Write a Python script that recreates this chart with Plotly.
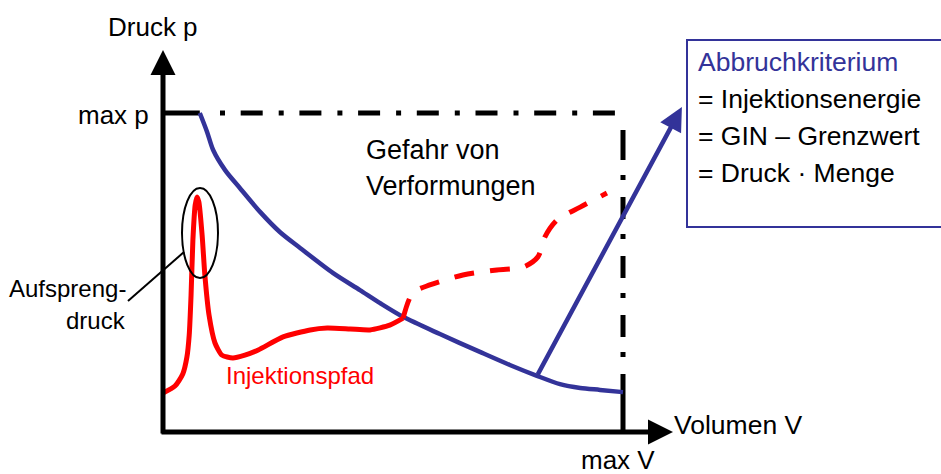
import plotly.graph_objects as go

# ---------------- data (diagram units: V and p in % of max) ----------------
V_MAX = 100.0
P_MAX = 100.0

# limit curve (blue)
V_LIMIT = [8, 9.6, 10.9, 13.5, 16.7, 21.1, 25.4, 29.8, 37, 42.8, 47.2, 52.2,
           60.2, 68.9, 75.4, 81.3, 86.3, 90.7, 95, 100]
P_LIMIT = [100, 94, 88.4, 82.1, 76.5, 69, 62.7, 57.7, 49.8, 44.5, 40.4, 36.1,
           30.7, 25.1, 21, 17.6, 15, 13.8, 13.2, 12.5]

# injection path (red, solid part)
V_PATH = [0, 2.6, 4.3, 5.2, 5.7, 6.1, 6.5, 7.0, 7.4, 7.8, 8.5, 9.1, 10.0, 11.3,
          12.8, 15.2, 17.8, 20.7, 26.1, 32.0, 35.7, 40.7, 45.0, 49.3, 52.2]
P_PATH = [12.2, 14.4, 18.2, 23.5, 30.4, 42.9, 60.2, 71.2, 73.7, 72.1, 61.8,
          49.2, 36.7, 27.9, 24.1, 23.2, 24.1, 25.7, 29.8, 32.0, 32.6, 32.3,
          32.0, 33.5, 35.7]

# injection path continued (red, dashed)
V_PATH_DASH = [52.2, 54.3, 58.0, 65.2, 72.6, 78.3, 81.5, 83.0, 85.7, 90.7, 96.5]
P_PATH_DASH = [35.7, 43.6, 46.1, 49.2, 50.8, 51.7, 54.9, 61.1, 66.5, 70.5, 74.9]

# criterion arrow (from limit curve to text box)
CRIT_ARROW_V = [81.3, 112.8]
CRIT_ARROW_P = [17.6, 101.9]

TICK_LABELS = {"p": "max p", "V": "max V"}
AXIS_TITLES = {"p": "Druck p", "V": "Volumen V"}
BOX_LINES = ["Abbruchkriterium", "= Injektionsenergie", "= GIN \u2013 Grenzwert",
             "= Druck \u00b7 Menge"]

# ---------------- layout helpers (pixel -> diagram units) ----------------
W, H = 941, 474
X0_PX, XMAX_PX = 163, 623
Y0_PX, YMAX_PX = 432, 113
SX = (XMAX_PX - X0_PX) / V_MAX
SY = (Y0_PX - YMAX_PX) / P_MAX


def vx(px):
    return (px - X0_PX) / SX


def py(pix):
    return (Y0_PX - pix) / SY


BLUE = "#333399"
RED = "#ff0000"
BLACK = "#000000"
FONT = "Liberation Sans, Arial, sans-serif"

fig = go.Figure()

# max p / max V dash-dot limits
fig.add_trace(go.Scatter(x=[0, V_LIMIT[0]], y=[P_MAX, P_MAX], mode="lines",
                         line=dict(color=BLACK, width=5), hoverinfo="skip"))
fig.add_trace(go.Scatter(x=[vx(220), V_MAX], y=[P_MAX, P_MAX], mode="lines",
                         line=dict(color=BLACK, width=5,
                                   dash="5px,15.7px,22px,16px"),
                         hoverinfo="skip"))
fig.add_trace(go.Scatter(x=[V_MAX, V_MAX], y=[py(130), 0], mode="lines",
                         line=dict(color=BLACK, width=5,
                                   dash="30px,15px,5px,17px,22px,15px,5px,17px,22px,15px,5px,17px,22px,15px,5px,17px,80px"),
                         hoverinfo="skip"))

# limit curve
fig.add_trace(go.Scatter(x=V_LIMIT, y=P_LIMIT, mode="lines",
                         line=dict(color=BLUE, width=4.5, shape="spline", smoothing=0.8),
                         hoverinfo="skip"))
# injection path
fig.add_trace(go.Scatter(x=V_PATH, y=P_PATH, mode="lines",
                         line=dict(color=RED, width=5, shape="spline", smoothing=0.6),
                         hoverinfo="skip"))
fig.add_trace(go.Scatter(x=V_PATH_DASH, y=P_PATH_DASH, mode="lines",
                         line=dict(color=RED, width=5, shape="spline", smoothing=0.8,
                                   dash="20px,16px"),
                         hoverinfo="skip"))

annotations = []
# axes arrows
annotations.append(dict(x=0, y=py(50), ax=0, ay=py(435), xref="x", yref="y",
                        axref="x", ayref="y", text="", showarrow=True,
                        arrowhead=2, arrowsize=1, arrowwidth=5, arrowcolor=BLACK))
annotations.append(dict(x=vx(673), y=0, ax=vx(160), ay=0, xref="x", yref="y",
                        axref="x", ayref="y", text="", showarrow=True,
                        arrowhead=2, arrowsize=1, arrowwidth=5, arrowcolor=BLACK))
# criterion arrow
annotations.append(dict(x=CRIT_ARROW_V[1], y=CRIT_ARROW_P[1],
                        ax=CRIT_ARROW_V[0], ay=CRIT_ARROW_P[0],
                        xref="x", yref="y", axref="x", ayref="y", text="",
                        showarrow=True, arrowhead=2, arrowsize=1.05,
                        arrowwidth=4.5, arrowcolor=BLUE))


def label(text, x, y, xanchor="center", size=26.5, color=BLACK):
    annotations.append(dict(text=text, x=vx(x), y=py(y), xref="x", yref="y",
                            xanchor=xanchor, yanchor="middle", showarrow=False,
                            font=dict(family=FONT, size=size, color=color)))


label(AXIS_TITLES["p"], 153, 27, size=26)
label(TICK_LABELS["p"], 151, 115, xanchor="right", size=26)
label(AXIS_TITLES["V"], 672, 425, xanchor="left")
label(TICK_LABELS["V"], 618, 460, size=26)
label("Gefahr von", 364, 150, xanchor="left", size=27)
label("Verformungen", 364, 186, xanchor="left", size=27)
label("Aufspreng-", 128, 288, xanchor="right", size=24)
label("druck", 128, 320, xanchor="right", size=24)
label("Injektionspfad", 300, 375, size=24, color=RED)
label(BOX_LINES[0], 696, 62, xanchor="left", color=BLUE)
label(BOX_LINES[1], 696, 99, xanchor="left")
label(BOX_LINES[2], 696, 136, xanchor="left")
label(BOX_LINES[3], 696, 173, xanchor="left")

shapes = [
    dict(type="rect", xref="x", yref="y", x0=vx(687), x1=vx(960),
         y0=py(40), y1=py(227), line=dict(color=BLUE, width=2)),
    dict(type="circle", xref="x", yref="y", x0=vx(182), x1=vx(218),
         y0=py(188), y1=py(278), line=dict(color=BLACK, width=2)),
    dict(type="line", xref="x", yref="y", x0=vx(128), y0=py(301),
         x1=vx(184), y1=py(252), line=dict(color=BLACK, width=2)),
]

fig.update_layout(
    width=W, height=H,
    margin=dict(l=0, r=0, t=0, b=0),
    paper_bgcolor="white", plot_bgcolor="white",
    showlegend=False,
    xaxis=dict(range=[vx(0), vx(W)], visible=False, fixedrange=True),
    yaxis=dict(range=[py(H), py(0)], visible=False, fixedrange=True),
    annotations=annotations,
    shapes=shapes,
)

fig.write_html("out.html", config={"displayModeBar": False},
               post_script="document.body.style.margin='0';document.body.style.overflow='hidden';")
